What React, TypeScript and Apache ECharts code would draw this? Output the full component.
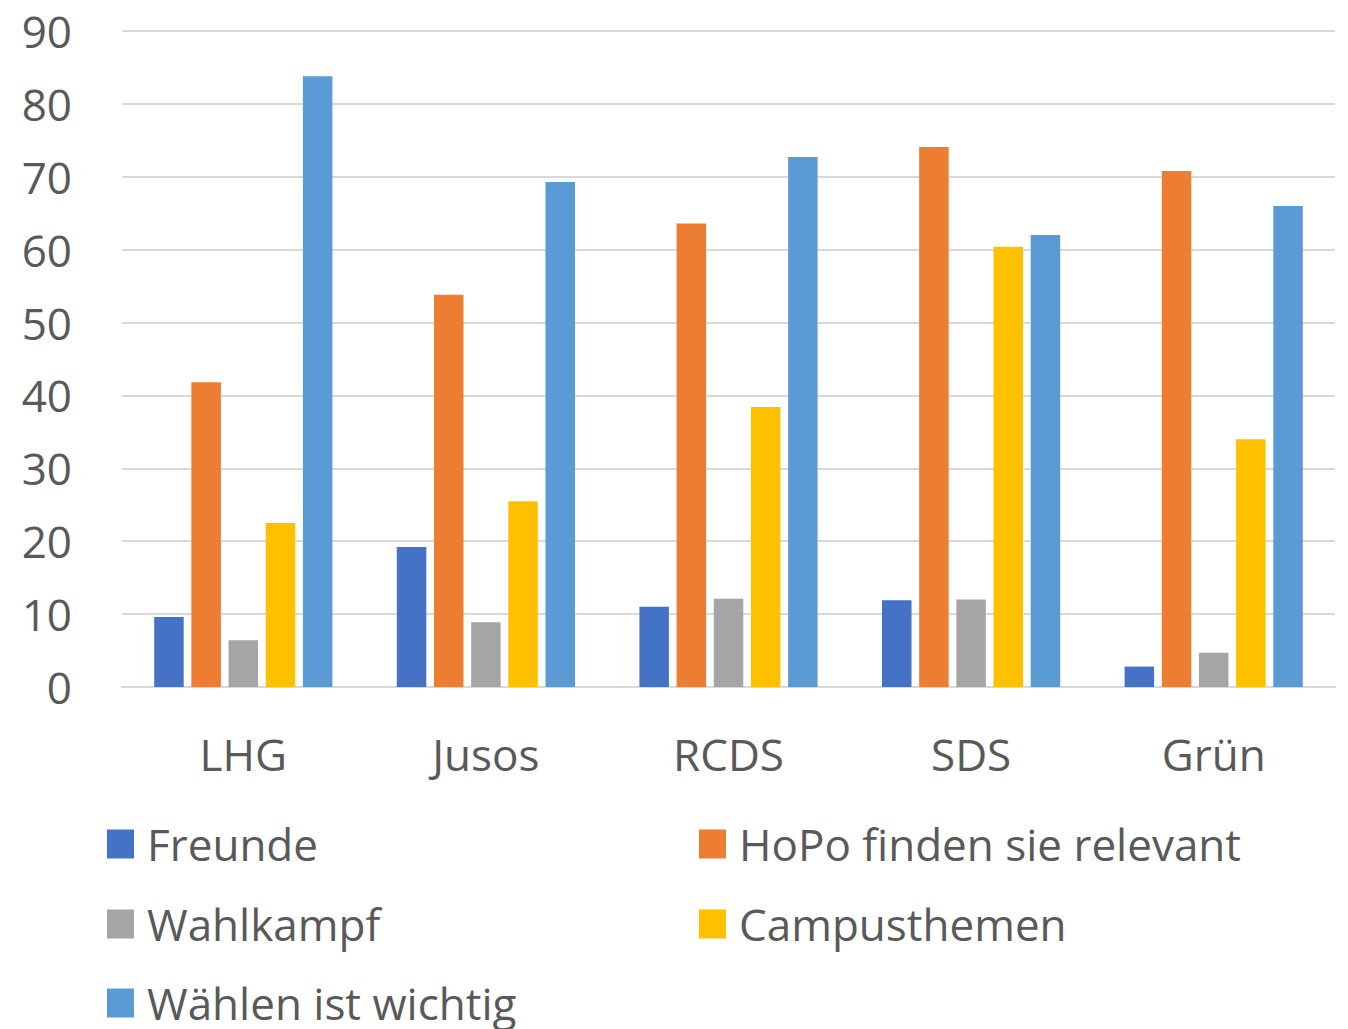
import React, { useEffect, useRef } from "react";
import * as echarts from "echarts";

const categories = ["LHG", "Jusos", "RCDS", "SDS", "Grün"];
const seriesNames = [
  "Freunde",
  "HoPo finden sie relevant",
  "Wahlkampf",
  "Campusthemen",
  "Wählen ist wichtig",
];
const freunde = [9.6, 19.2, 11.0, 11.9, 2.8];
const hopo = [41.8, 53.8, 63.6, 74.1, 70.8];
const wahlkampf = [6.4, 8.9, 12.1, 12.0, 4.7];
const campus = [22.5, 25.5, 38.4, 60.4, 34.0];
const waehlen = [83.8, 69.3, 72.7, 62.0, 66.0];
const colors = ["#4472C4", "#ED7D31", "#A5A5A5", "#FFC000", "#5B9BD5"];
const yTicks = { min: 0, max: 90, interval: 10 };

const FONT = "'Open Sans', sans-serif";
const TEXT = "#595959";

export default function App() {
  const ref = useRef<HTMLDivElement>(null);
  useEffect(() => {
    if (!ref.current) return;
    const chart = echarts.init(ref.current, undefined, { renderer: "svg" });
    const values = [freunde, hopo, wahlkampf, campus, waehlen];
    const legendPos = [
      { left: 107, top: 821 },
      { left: 699, top: 821 },
      { left: 107, top: 901 },
      { left: 699, top: 901 },
      { left: 107, top: 980 },
    ];
    chart.setOption({
      animation: false,
      color: colors,
      textStyle: { fontFamily: FONT },
      grid: {
        left: 122,
        right: 13,
        top: 31,
        bottom: 342,
        containLabel: false,
        outerBoundsMode: "none",
      },
      legend: seriesNames.map((n, i) => ({
        data: [n],
        left: legendPos[i].left,
        top: legendPos[i].top,
        padding: 0,
        itemWidth: 27,
        itemHeight: 29,
        icon: "rect",
        selectedMode: false,
        textStyle: {
          fontFamily: FONT,
          fontSize: 44,
          lineHeight: 46,
          color: TEXT,
          padding: [0, 0, 0, 8],
        },
      })),
      xAxis: {
        type: "category",
        data: categories,
        axisTick: { show: false },
        axisLine: { lineStyle: { color: "#D9D9D9", width: 2 } },
        axisLabel: {
          fontFamily: FONT,
          fontSize: 44,
          lineHeight: 50,
          margin: 42,
          color: TEXT,
        },
      },
      yAxis: {
        type: "value",
        min: yTicks.min,
        max: yTicks.max,
        interval: yTicks.interval,
        axisLine: { show: false },
        axisTick: { show: false },
        splitLine: { lineStyle: { color: "#D9D9D9", width: 2 } },
        axisLabel: {
          fontFamily: FONT,
          fontSize: 44,
          margin: 50,
          color: TEXT,
          padding: [0, 0, 10, 0],
        },
      },
      series: seriesNames.map((n, i) => ({
        name: n,
        type: "bar",
        data: values[i],
        barWidth: 29.5,
        barGap: "26%",
        itemStyle: { color: colors[i] },
      })),
    });
    return () => chart.dispose();
  }, []);
  return (
    <div
      ref={ref}
      style={{ position: "absolute", left: 0, top: 0, width: 1348, height: 1029 }}
    />
  );
}
